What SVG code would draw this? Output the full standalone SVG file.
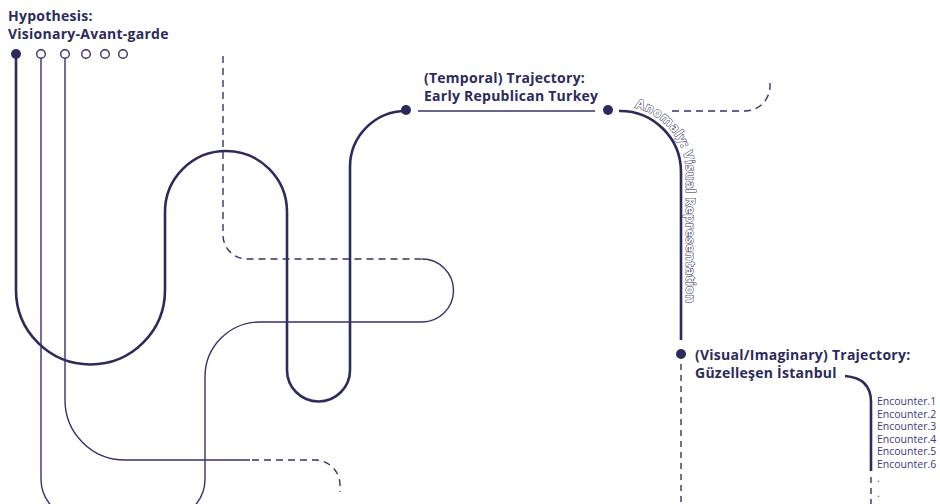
<svg xmlns="http://www.w3.org/2000/svg" width="940" height="504" viewBox="0 0 940 504">
<style>
.thick{fill:none;stroke:#2d2b5c;stroke-width:2.6}
.thin{fill:none;stroke:#35336a;stroke-width:1.4}
.dash{fill:none;stroke:#35336a;stroke-width:1.4;stroke-dasharray:7 5}
.lbl{font-family:"Open Sans",sans-serif;font-weight:700;font-size:14px;letter-spacing:0.25px;fill:#2d2b5c}
.enc{font-family:"Open Sans",sans-serif;font-size:10.5px;fill:#3b3980}
.anom{font-family:"Open Sans",sans-serif;font-weight:700;font-size:13px;letter-spacing:0.4px;fill:#ffffff;stroke:#2d2b5c;stroke-width:1;paint-order:stroke}
.dot{fill:#2d2b5c}
.ring{fill:#ffffff;stroke:#35336a;stroke-width:1.4}
</style>
<defs>
<path id="anomPath" d="M620,106 A66,66 0 0 1 686,172 L686,330"/>
</defs>
<rect width="940" height="504" fill="#ffffff"/>
<g id="connectors">
<path class="thick" d="M16,54 L16,290 A74.5,74.5 0 0 0 165,290 L165,212 A61,61 0 0 1 287,212 L287,370 A31.5,31.5 0 0 0 350,370 L350,167 A56,56 0 0 1 406,111"/>
<path class="thin" d="M41,58 L41,479 A40,40 0 0 0 81,519"/>
<path class="thin" d="M65,58 L65,400 A60,60 0 0 0 125,460 L250,460"/>
<path class="dash" d="M252,460 L315,460 A25,25 0 0 1 340,485 L340,492"/>
<path class="dash" d="M223,56 L223,235 A24,24 0 0 0 247,259 L422,259"/>
<path class="thin" d="M422,259 A31.5,31.5 0 0 1 422,322 L260,322 A55,55 0 0 0 205,377 L205,479 A40,40 0 0 1 165,519"/>
<path class="thin" d="M418,111 L595,111"/>
<path class="thick" d="M619,111 A61,61 0 0 1 681,172 L681,340"/>
<path class="dash" d="M672,111 L745,111 A25,25 0 0 0 770,86 L770,80"/>
<path class="dash" d="M681,364 L681,504" style="stroke-dasharray:6 5"/>
<path class="thick" d="M845,376 Q871,378 871,402 L871,471"/>
<path class="dash" d="M871,477 L871,504" style="stroke-dasharray:6 5"/>
</g>
<g id="hypothesis">
<text class="lbl" x="8" y="21">Hypothesis:</text>
<text class="lbl" x="8" y="39">Visionary-Avant-garde</text>
<circle class="dot" cx="16" cy="54" r="5"/>
<circle class="ring" cx="41" cy="54" r="4.3"/>
<circle class="ring" cx="65" cy="54" r="4.3"/>
<circle class="ring" cx="86" cy="54" r="4.3"/>
<circle class="ring" cx="105" cy="54" r="4.3"/>
<circle class="ring" cx="123" cy="54" r="4.3"/>
</g>
<g id="temporal">
<text class="lbl" x="424" y="83">(Temporal) Trajectory:</text>
<text class="lbl" x="424" y="101">Early Republican Turkey</text>
<circle class="dot" cx="406" cy="110" r="5"/>
<circle class="dot" cx="608" cy="110" r="5"/>
</g>
<g id="anomaly">
<text class="anom"><textPath href="#anomPath" startOffset="15">Anomaly: Visual Representation</textPath></text>
</g>
<g id="visual">
<circle class="dot" cx="681" cy="354" r="5"/>
<text class="lbl" x="695" y="360">(Visual/Imaginary) Trajectory:</text>
<text class="lbl" x="695" y="378">Güzelleşen İstanbul</text>
</g>
<g id="encounters">
<text class="enc" x="877" y="405">Encounter.1</text>
<text class="enc" x="877" y="417.6">Encounter.2</text>
<text class="enc" x="877" y="430.2">Encounter.3</text>
<text class="enc" x="877" y="442.8">Encounter.4</text>
<text class="enc" x="877" y="455.4">Encounter.5</text>
<text class="enc" x="877" y="468">Encounter.6</text>
<text class="enc" x="877" y="482">.</text>
<text class="enc" x="877" y="497">.</text>
</g>
</svg>
